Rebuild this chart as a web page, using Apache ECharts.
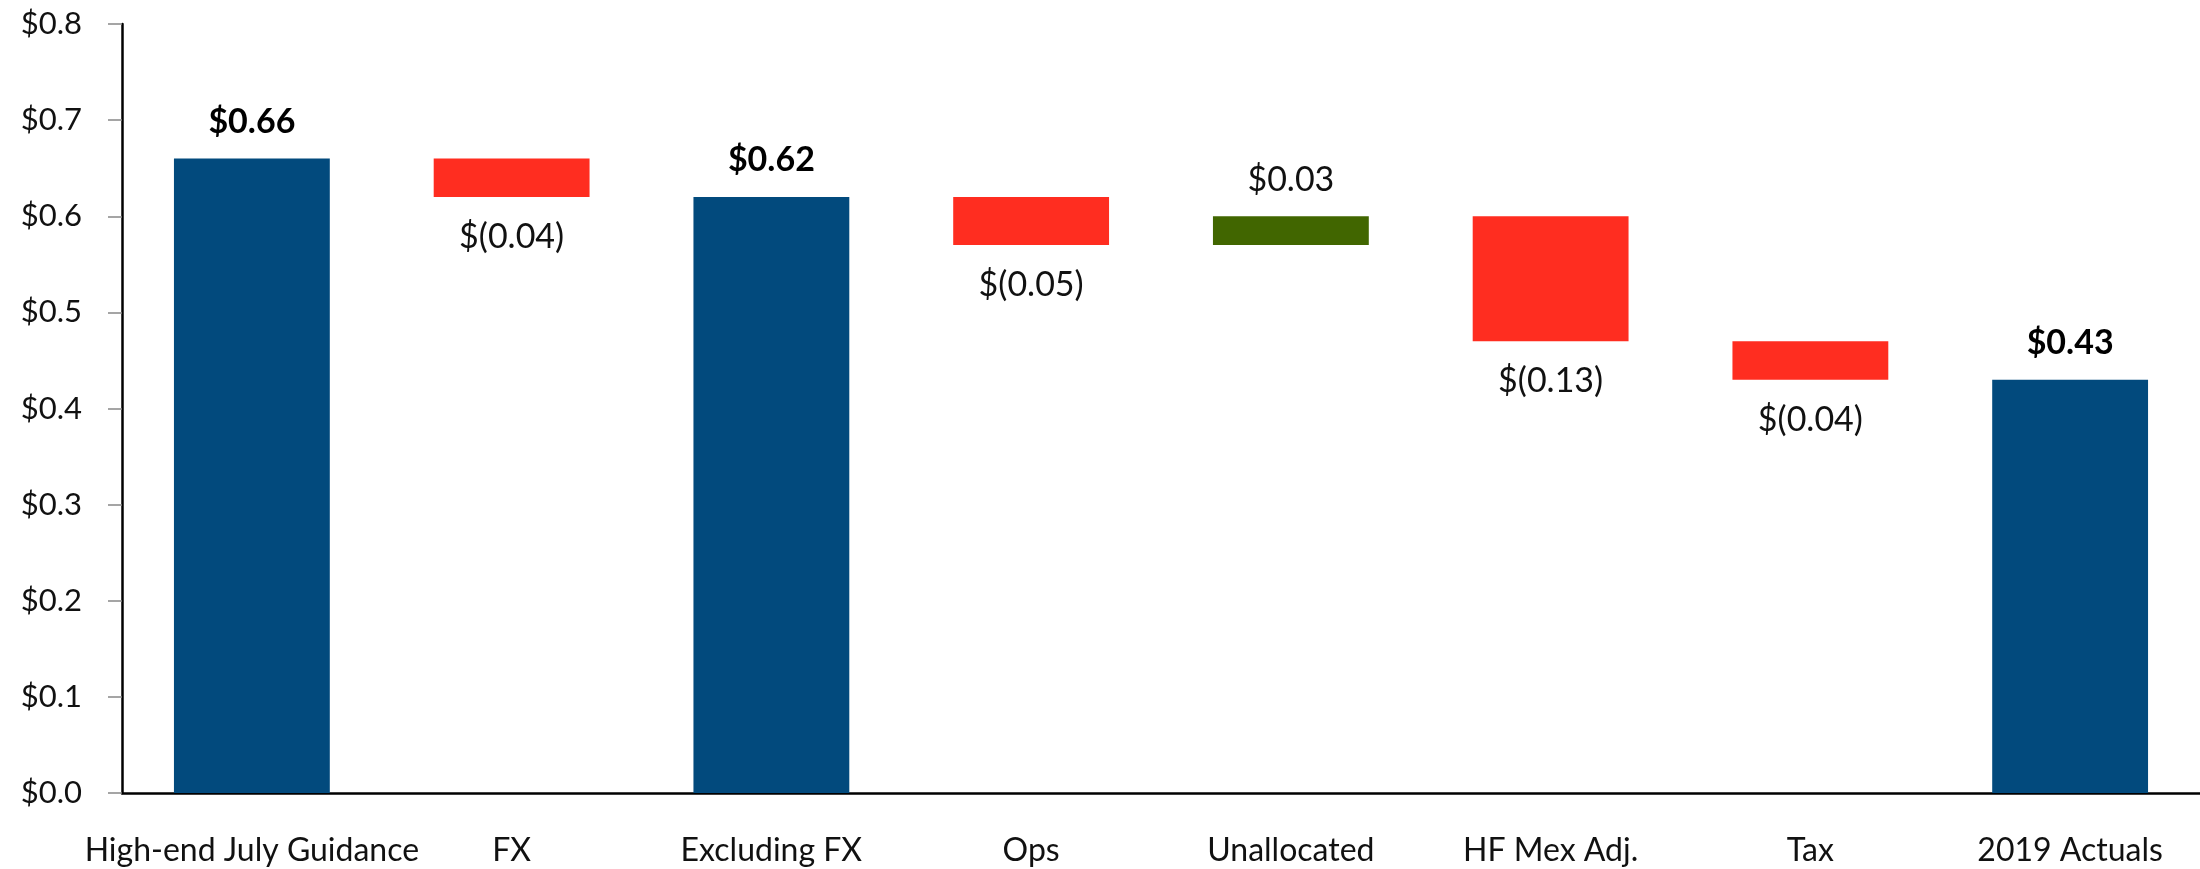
<!DOCTYPE html>
<html>
<head>
<meta charset="utf-8">
<script src="https://cdn.jsdelivr.net/npm/echarts@6/dist/echarts.min.js"></script>
<style>
    html, body { margin: 0; padding: 0; background: #fff; }
    #J_echarts { width: 2200px; height: 869px; }
</style>
</head>
<body>
<div id="J_echarts"></div>
<script>
// 数据
var categories = ['High-end July Guidance', 'FX', 'Excluding FX', 'Ops', 'Unallocated', 'HF Mex Adj.', 'Tax', '2019 Actuals'];
var totals = [0.66, null, 0.62, null, null, null, null, 0.43];
var changes = [null, -0.04, null, -0.05, 0.03, -0.13, -0.04, null];
var yTicks = [0, 0.1, 0.2, 0.3, 0.4, 0.5, 0.6, 0.7, 0.8];

// 瀑布图：透明底座 + 涨跌
var base = [], down = [], up = [];
var running = 0;
categories.forEach(function (c, i) {
    if (totals[i] !== null) {
        running = totals[i];
        base.push(null); down.push(null); up.push(null);
    } else {
        var v = changes[i];
        if (v < 0) {
            base.push(+(running + v).toFixed(4));
            down.push(-v); up.push(null);
        } else {
            base.push(running);
            up.push(v); down.push(null);
        }
        running = +(running + v).toFixed(4);
    }
});

var font = 'Lato';
var myChart = echarts.init(document.getElementById('J_echarts'));
var option = {
    animation: false,
    textStyle: { fontFamily: font },
    grid: { left: 122, right: 0, top: 24, bottom: 76 },
    xAxis: {
        type: 'category',
        data: categories,
        axisLine: { lineStyle: { color: '#000', width: 2.5 } },
        axisTick: { alignWithLabel: true, length: 13, lineStyle: { color: '#888', width: 1.5 } },
        axisLabel: { color: '#111', fontSize: 32, fontFamily: font, margin: 42, interval: 0 }
    },
    yAxis: {
        type: 'value',
        min: yTicks[0],
        max: yTicks[yTicks.length - 1],
        interval: 0.1,
        splitLine: { show: false },
        axisLine: { show: true, lineStyle: { color: '#000', width: 2.5 } },
        axisTick: { show: true, length: 14, lineStyle: { color: '#888', width: 1.5 } },
        axisLabel: {
            color: '#111', fontSize: 31, fontFamily: font, margin: 40,
            formatter: function (v) { return '$' + v.toFixed(1); }
        }
    },
    series: [
        {
            name: 'base', type: 'bar', stack: 'w', barWidth: '60%',
            itemStyle: { color: 'transparent' },
            data: base
        },
        {
            name: 'total', type: 'bar', stack: 'w', barWidth: '60%',
            itemStyle: { color: '#024A7D' },
            label: {
                show: true, position: 'top', distance: 20,
                fontSize: 34, fontWeight: 'bold', color: '#000', fontFamily: font,
                formatter: function (p) { return '$' + p.value.toFixed(2); }
            },
            data: totals
        },
        {
            name: 'down', type: 'bar', stack: 'w', barWidth: '60%',
            itemStyle: { color: '#FF2D20' },
            label: {
                show: true, position: 'bottom', distance: 23,
                fontSize: 34, color: '#111', fontFamily: font,
                formatter: function (p) { return '$(' + p.value.toFixed(2) + ')'; }
            },
            data: down
        },
        {
            name: 'up', type: 'bar', stack: 'w', barWidth: '60%',
            itemStyle: { color: '#416600' },
            label: {
                show: true, position: 'top', distance: 19,
                fontSize: 34, color: '#111', fontFamily: font,
                formatter: function (p) { return '$' + p.value.toFixed(2); }
            },
            data: up
        }
    ]
};
myChart.setOption(option, true);
</script>
</body>
</html>
